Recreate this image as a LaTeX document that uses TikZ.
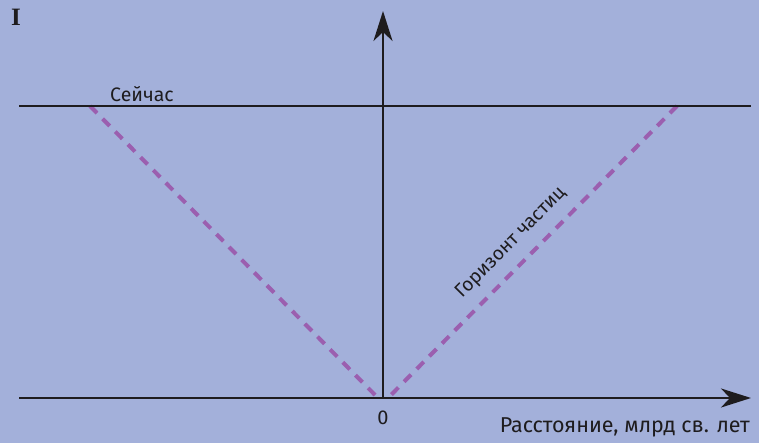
\documentclass[tikz,border=0pt]{standalone}
\usepackage{fontspec}
\setmainfont{Fira Sans}
\newfontfamily\serifb{Liberation Serif}
\usetikzlibrary{arrows.meta}
\definecolor{bg}{RGB}{163,176,218}
\definecolor{horiz}{RGB}{155,95,175}
\definecolor{ink}{RGB}{30,28,30}
\tikzset{
  axis/.style={draw=ink, line width=2.6pt, -{Stealth[length=30pt,width=19pt,inset=9pt]}},
  nowline/.style={draw=ink, line width=1.3pt},
  horline/.style={draw=horiz, line width=4pt, dash pattern=on 10pt off 8pt},
  lbl/.style={text=ink, inner sep=0pt}
}
\begin{document}
\begin{tikzpicture}[x=1pt,y=1pt]
\fill[bg] (0,0) rectangle (759,443);
\useasboundingbox (0,0) rectangle (759,443);
% coordinates (y = 443 - ypx)
\coordinate (xl) at (19,45);
\coordinate (xr) at (751,45);
\coordinate (o) at (383,45);
\coordinate (yt) at (383,432);
\coordinate (nl) at (19,337);
\coordinate (nr) at (751,337);
\coordinate (hl) at (90,337);
\coordinate (hr) at (677,337);
\coordinate (bl) at (378,45);
\coordinate (br) at (388,45);
\draw[horline] (hl) -- (bl);
\draw[horline] (hr) -- (br);
\draw[nowline] (nl) -- (nr);
\draw[axis] (xl) -- (xr);
\draw[axis] (o) -- (yt);
\node[lbl, anchor=south west, font=\fontsize{19.5}{22}\selectfont] (now) at (110,341) {Сейчас};
\node[lbl, font=\fontsize{20}{22}\selectfont] (zero) at (383,25) {0};
\node[lbl, anchor=east, font=\fontsize{21.5}{24}\selectfont] (dist) at (750,16) {Расстояние, млрд св. лет};
\node[lbl, rotate=45.3, font=\fontsize{19}{22}\selectfont] (hz) at (511,200) {Горизонт частиц};
\node[text=ink, inner sep=0pt, font=\serifb\bfseries\fontsize{25}{28}\selectfont] (ilab) at (16,426) {I};
\end{tikzpicture}
\end{document}
